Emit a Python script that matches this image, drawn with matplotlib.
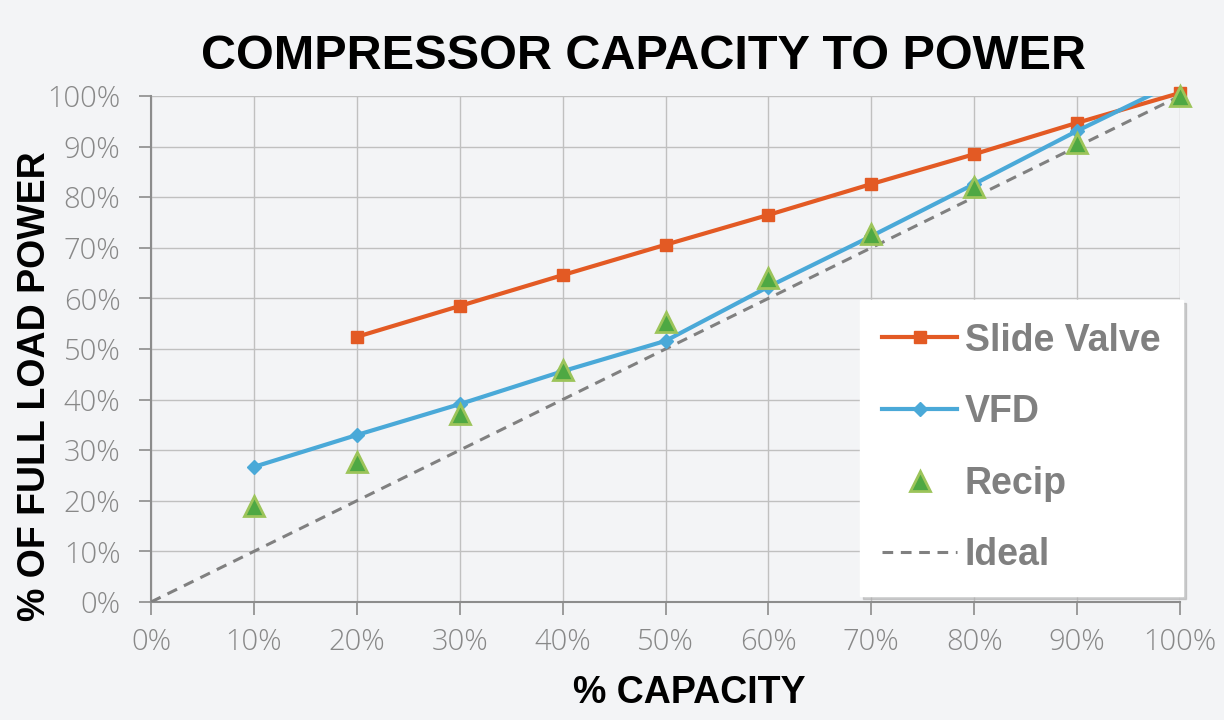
import matplotlib
matplotlib.use('Agg')
import matplotlib.pyplot as plt
from matplotlib.ticker import FuncFormatter

# данные
capacity = [0, 10, 20, 30, 40, 50, 60, 70, 80, 90, 100]
sv_capacity = [20, 30, 40, 50, 60, 70, 80, 90, 100]
slide_valve = [52.4, 58.5, 64.6, 70.6, 76.5, 82.6, 88.5, 94.7, 100.6]
vfd_capacity = [10, 20, 30, 40, 50, 60, 70, 80, 90, 100]
vfd = [26.7, 33.0, 39.1, 45.6, 51.6, 62.3, 72.3, 82.6, 93.1, 103.0]
recip_capacity = [10, 20, 30, 40, 50, 60, 70, 80, 90, 100]
recip = [19.0, 27.7, 37.1, 45.8, 55.4, 64.1, 72.8, 82.0, 90.8, 100.0]
ideal_capacity = [0, 100]
ideal = [0, 100]

bg = '#f3f4f6'
bold_font = ['Liberation Sans', 'DejaVu Sans']

fig = plt.figure(figsize=(12.24, 7.2), dpi=100)
fig.patch.set_facecolor(bg)
ax = fig.add_axes([151/1224, 118/720, 1029/1224, 506/720])
ax.set_facecolor(bg)

ax.plot(ideal_capacity, ideal, color='#808080', linestyle=(0, (3.5, 2.5)), linewidth=2.2, label='Ideal', zorder=3)
ax.plot(sv_capacity, slide_valve, color='#e35a24', linewidth=3, marker='s', markersize=9,
        label='Slide Valve', zorder=4, clip_on=False)
ax.plot(vfd_capacity, vfd, color='#4aa9d8', linewidth=3, marker='D', markersize=7,
        label='VFD', zorder=4)
ax.plot(recip_capacity, recip, linestyle='none', marker='^', markersize=14,
        markerfacecolor='#4ea843', markeredgecolor='#9cc45a', markeredgewidth=2,
        label='Recip', zorder=5, clip_on=False)

ax.set_xlim(0, 100)
ax.set_ylim(0, 100)
ax.set_xticks(capacity)
ax.set_yticks(capacity)
pct = FuncFormatter(lambda v, p: f'{int(v)}%')
ax.xaxis.set_major_formatter(pct)
ax.yaxis.set_major_formatter(pct)

ax.grid(True, color='#c0c0c0', linewidth=1)
ax.set_axisbelow(True)
for s in ['top', 'right']:
    ax.spines[s].set_visible(False)
for s in ['left', 'bottom']:
    ax.spines[s].set_color('#8c8c8c')
    ax.spines[s].set_linewidth(1.5)

ax.tick_params(axis='both', direction='out', length=9, width=1.2, color='#8c8c8c',
               labelcolor='#888888', labelsize=21)
ax.tick_params(axis='x', pad=9)
ax.tick_params(axis='y', pad=13)
for lab in ax.get_xticklabels() + ax.get_yticklabels():
    lab.set_family(['Open Sans', 'DejaVu Sans'])
    lab.set_fontweight('light')

ax.set_xlabel('% CAPACITY', fontsize=27, fontweight='bold', family=bold_font, color='black')
ax.xaxis.set_label_coords(0.523, -0.18)
ax.xaxis.label.set_va('center')
ax.set_ylabel('% OF FULL LOAD POWER', fontsize=27, fontweight='bold', family=bold_font, color='black')
ax.yaxis.set_label_coords(-0.113, 0.427)
ax.yaxis.label.set_va('center')
fig.text(0.526, 0.922, 'COMPRESSOR CAPACITY TO POWER', fontsize=35, fontweight='bold',
         family=bold_font, color='black', ha='center', va='center')

handles, labels = ax.get_legend_handles_labels()
order = [1, 2, 3, 0]
leg = ax.legend([handles[i] for i in order], [labels[i] for i in order],
                loc='lower right', bbox_to_anchor=(1.003, 0.012), frameon=True,
                fancybox=False, shadow={'color': '#b0b0b0', 'alpha': 0.6},
                prop={'family': bold_font, 'weight': 'bold', 'size': 27},
                labelcolor='#808080', handlelength=2.0, handletextpad=0.2,
                labelspacing=0.95, borderpad=0.6, borderaxespad=0)
leg.get_frame().set_facecolor('white')
leg.get_frame().set_edgecolor('white')
leg.set_zorder(10)

fig.savefig('out.png', dpi=100, facecolor=bg)
